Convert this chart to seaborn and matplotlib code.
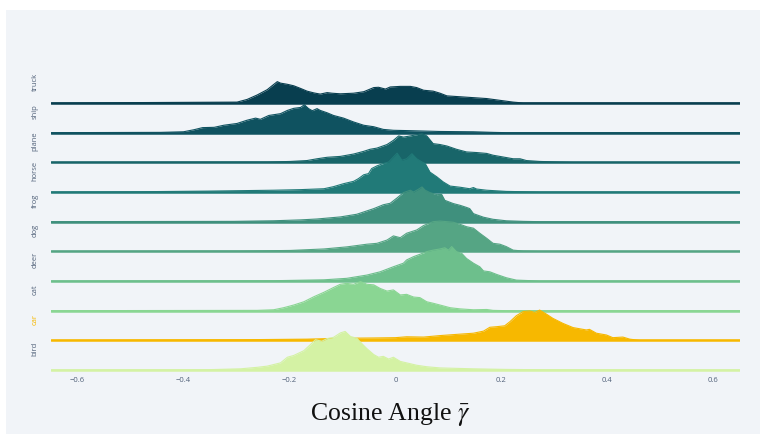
import numpy as np
import pandas as pd
import seaborn as sns
import matplotlib.pyplot as plt
from matplotlib.patches import Rectangle

# classes from bottom row to top row
classes = ['bird', 'car', 'cat', 'deer', 'dog', 'frog', 'horse', 'plane', 'ship', 'truck']
colors = ['#d4f2a4', '#f7b800', '#8ad693', '#6dbf8c', '#55a584',
          '#3f907d', '#217a78', '#186569', '#0f5260', '#083e4f']
label_colors = ['#52627a', '#f7b800'] + ['#52627a'] * 8

# density profiles (height in units of row spacing)
truck_x = [-0.299, -0.280, -0.261, -0.242, -0.233, -0.223, -0.217, -0.204, -0.192, -0.179,
           -0.167, -0.154, -0.142, -0.129, -0.120, -0.104, -0.079, -0.060, -0.041, -0.032,
           -0.019, -0.010, 0.009, 0.028, 0.040, 0.053, 0.071, 0.084, 0.097, 0.122,
           0.147, 0.172, 0.197, 0.222, 0.241]
truck_h = [0.03, 0.12, 0.27, 0.45, 0.58, 0.72, 0.67, 0.63, 0.58, 0.49,
           0.40, 0.34, 0.30, 0.35, 0.33, 0.31, 0.33, 0.38, 0.52, 0.53,
           0.47, 0.54, 0.56, 0.56, 0.52, 0.43, 0.40, 0.33, 0.24, 0.21,
           0.18, 0.15, 0.09, 0.03, 0.0]

ship_x = [-0.443, -0.400, -0.380, -0.364, -0.342, -0.324, -0.299, -0.280, -0.264, -0.255,
          -0.239, -0.217, -0.204, -0.192, -0.179, -0.172, -0.164, -0.157, -0.148, -0.142,
          -0.129, -0.117, -0.098, -0.079, -0.060, -0.041, -0.023, -0.004, 0.021, 0.084,
          0.147, 0.184, 0.209]
ship_h = [0.01, 0.03, 0.10, 0.17, 0.18, 0.25, 0.31, 0.42, 0.49, 0.45,
          0.58, 0.64, 0.75, 0.82, 0.85, 0.94, 0.81, 0.74, 0.81, 0.75,
          0.67, 0.58, 0.49, 0.36, 0.25, 0.20, 0.11, 0.08, 0.07, 0.04,
          0.03, 0.01, 0.0]

plane_x = [-0.242, -0.198, -0.167, -0.148, -0.129, -0.104, -0.079, -0.060, -0.048, -0.035,
           -0.016, -0.004, 0.006, 0.015, 0.028, 0.040, 0.050, 0.059, 0.071, 0.084,
           0.097, 0.115, 0.134, 0.153, 0.172, 0.184, 0.203, 0.222, 0.235, 0.247,
           0.272, 0.310, 0.335]
plane_h = [0.01, 0.03, 0.06, 0.12, 0.17, 0.20, 0.28, 0.37, 0.44, 0.48,
           0.60, 0.74, 0.89, 0.85, 0.89, 0.93, 0.97, 0.89, 0.63, 0.60,
           0.55, 0.44, 0.35, 0.33, 0.30, 0.24, 0.18, 0.12, 0.12, 0.06,
           0.03, 0.01, 0.0]

horse_x = [-0.480, -0.355, -0.230, -0.179, -0.135, -0.117, -0.098, -0.079, -0.070, -0.060,
           -0.051, -0.045, -0.035, -0.023, -0.013, -0.004, 0.003, 0.012, 0.021, 0.031,
           0.040, 0.050, 0.056, 0.065, 0.078, 0.090, 0.103, 0.122, 0.140, 0.147,
           0.153, 0.172, 0.209, 0.272]
horse_h = [0.01, 0.03, 0.06, 0.08, 0.11, 0.18, 0.28, 0.36, 0.45, 0.58,
           0.62, 0.79, 0.88, 0.96, 1.01, 1.18, 1.31, 1.07, 1.12, 1.29,
           1.12, 1.01, 0.96, 0.67, 0.51, 0.34, 0.20, 0.16, 0.11, 0.15,
           0.10, 0.06, 0.02, 0.0]

frog_x = [-0.305, -0.230, -0.179, -0.148, -0.104, -0.073, -0.041, -0.023, -0.010, 0.003,
          0.015, 0.028, 0.034, 0.043, 0.050, 0.056, 0.065, 0.078, 0.087, 0.093,
          0.109, 0.122, 0.134, 0.140, 0.147, 0.166, 0.184, 0.209, 0.241, 0.272]
frog_h = [0.01, 0.03, 0.06, 0.09, 0.16, 0.25, 0.44, 0.57, 0.62, 0.80,
          0.98, 1.06, 1.00, 1.09, 1.17, 1.06, 0.98, 0.91, 0.92, 0.72,
          0.61, 0.55, 0.48, 0.44, 0.27, 0.15, 0.08, 0.03, 0.01, 0.0]

dog_x = [-0.292, -0.198, -0.135, -0.092, -0.054, -0.035, -0.016, -0.004, 0.009, 0.021,
         0.040, 0.053, 0.071, 0.084, 0.097, 0.109, 0.122, 0.134, 0.147, 0.159,
         0.172, 0.184, 0.197, 0.209, 0.222, 0.241, 0.272]
dog_h = [0.01, 0.03, 0.08, 0.15, 0.24, 0.27, 0.38, 0.52, 0.46, 0.61,
         0.72, 0.87, 1.00, 1.02, 1.00, 0.98, 0.91, 0.83, 0.78, 0.61,
         0.44, 0.27, 0.24, 0.16, 0.04, 0.01, 0.0]

deer_x = [-0.230, -0.135, -0.092, -0.054, -0.029, -0.004, 0.015, 0.021, 0.034, 0.046,
          0.059, 0.071, 0.084, 0.093, 0.100, 0.106, 0.115, 0.125, 0.134, 0.147,
          0.159, 0.166, 0.178, 0.191, 0.209, 0.228, 0.272]
deer_h = [0.01, 0.04, 0.09, 0.20, 0.31, 0.48, 0.60, 0.71, 0.82, 0.90,
          0.99, 1.04, 1.08, 1.12, 1.04, 1.16, 0.99, 0.93, 0.76, 0.60,
          0.48, 0.34, 0.31, 0.22, 0.11, 0.03, 0.0]

cat_x = [-0.261, -0.230, -0.211, -0.192, -0.173, -0.154, -0.135, -0.117, -0.104, -0.092,
         -0.079, -0.066, -0.054, -0.041, -0.029, -0.016, -0.004, 0.009, 0.021, 0.034,
         0.046, 0.059, 0.071, 0.084, 0.103, 0.122, 0.147, 0.172, 0.184, 0.209]
cat_h = [0.01, 0.03, 0.10, 0.19, 0.30, 0.47, 0.62, 0.78, 0.89, 0.92,
         0.89, 0.98, 0.89, 0.87, 0.75, 0.66, 0.70, 0.53, 0.55, 0.46,
         0.44, 0.30, 0.25, 0.19, 0.10, 0.06, 0.03, 0.04, 0.01, 0.0]

car_x = [-0.480, -0.292, -0.167, -0.104, -0.041, 0.000, 0.021, 0.053, 0.084, 0.115,
         0.147, 0.166, 0.178, 0.191, 0.206, 0.216, 0.228, 0.241, 0.253, 0.263,
         0.272, 0.285, 0.297, 0.316, 0.335, 0.360, 0.366, 0.379, 0.398, 0.410,
         0.429, 0.442, 0.460]
car_h = [0.01, 0.02, 0.04, 0.07, 0.08, 0.09, 0.12, 0.11, 0.16, 0.20,
         0.24, 0.31, 0.44, 0.46, 0.49, 0.63, 0.83, 0.97, 0.99, 0.94,
         1.02, 0.88, 0.74, 0.57, 0.43, 0.35, 0.37, 0.24, 0.18, 0.09,
         0.11, 0.04, 0.0]

bird_x = [-0.355, -0.292, -0.261, -0.242, -0.217, -0.204, -0.192, -0.173, -0.161, -0.151,
          -0.139, -0.129, -0.117, -0.104, -0.095, -0.085, -0.073, -0.063, -0.054, -0.041,
          -0.032, -0.023, -0.013, -0.004, 0.009, 0.021, 0.040, 0.059, 0.084, 0.147,
          0.209, 0.272]
bird_h = [0.01, 0.04, 0.09, 0.13, 0.24, 0.43, 0.49, 0.65, 0.85, 1.02,
          0.97, 1.06, 1.10, 1.25, 1.30, 1.13, 1.07, 0.88, 0.72, 0.52,
          0.43, 0.46, 0.37, 0.43, 0.29, 0.24, 0.16, 0.11, 0.07, 0.04,
          0.02, 0.01]

xticks = [-0.6, -0.4, -0.2, 0, 0.2, 0.4, 0.6]
xticklabels = ['\u22120.6', '\u22120.4', '\u22120.2', '0', '0.2', '0.4', '0.6']

curves = {
    'bird': (bird_x, bird_h), 'car': (car_x, car_h), 'cat': (cat_x, cat_h),
    'deer': (deer_x, deer_h), 'dog': (dog_x, dog_h), 'frog': (frog_x, frog_h),
    'horse': (horse_x, horse_h), 'plane': (plane_x, plane_h),
    'ship': (ship_x, ship_h), 'truck': (truck_x, truck_h),
}

sns.set_theme(style='white')
plt.rcParams['font.family'] = ['Open Sans', 'DejaVu Sans']
plt.rcParams['mathtext.fontset'] = 'stix'

W, H = 760, 434
fig = plt.figure(figsize=(W / 100, H / 100), dpi=100, facecolor='white')
# light panel behind everything, white strip at top and left edge
fig.patches.append(Rectangle((6 / W, 0), 1, (H - 10) / H, transform=fig.transFigure,
                             facecolor='#f1f4f8', edgecolor='none', zorder=-10))

ax_top, ax_bot = 60, 374
ax = fig.add_axes([51 / W, 1 - ax_bot / H, 689 / W, (ax_bot - ax_top) / H])
ax.set_facecolor('none')
step = (370 - 103) / 9
ax.set_xlim(-0.65, 0.65)
ax.set_ylim(-(ax_bot - 370) / step, 9 + (103 - ax_top) / step)

# lower rows sit on top of the rows above them
for i, name in enumerate(classes):
    xs, hs = curves[name]
    xs = np.array([-0.65] + list(xs) + [0.65])
    hs = np.array([0.0] + list(hs) + [0.0])
    z = 30 - 2 * i
    ax.fill_between(xs, i, i + hs, color=colors[i], linewidth=0, zorder=z)
    df = pd.DataFrame({'x': xs, 'y': i + hs})
    sns.lineplot(data=df, x='x', y='y', ax=ax, color=colors[i], linewidth=0.8,
                 sort=False, estimator=None, zorder=z + 1)
    sns.lineplot(x=[-0.65, 0.65], y=[i, i], ax=ax, color=colors[i], linewidth=1.8,
                 estimator=None, zorder=z + 1)

ax.set_xticks(xticks)
ax.set_xticklabels(xticklabels)
ax.set_yticks([i + 0.7 for i in range(len(classes))])
ax.set_yticklabels(classes, rotation=90, va='center')
for lab, c in zip(ax.get_yticklabels(), label_colors):
    lab.set_color(c)
ax.tick_params(axis='x', length=0, pad=2, labelsize=5.5, labelcolor='#52627a')
ax.tick_params(axis='y', length=0, pad=9, labelsize=5.5)
ax.set_xlabel('')
ax.set_ylabel('')
for s in ax.spines.values():
    s.set_visible(False)
ax.grid(False)

fig.text(390 / W, 1 - 415 / H, r'Cosine Angle $\bar{\gamma}$', ha='center', va='center',
         fontsize=18.5, family=['Liberation Serif', 'DejaVu Serif'], color='#111111')

fig.savefig('out.png', dpi=100)
